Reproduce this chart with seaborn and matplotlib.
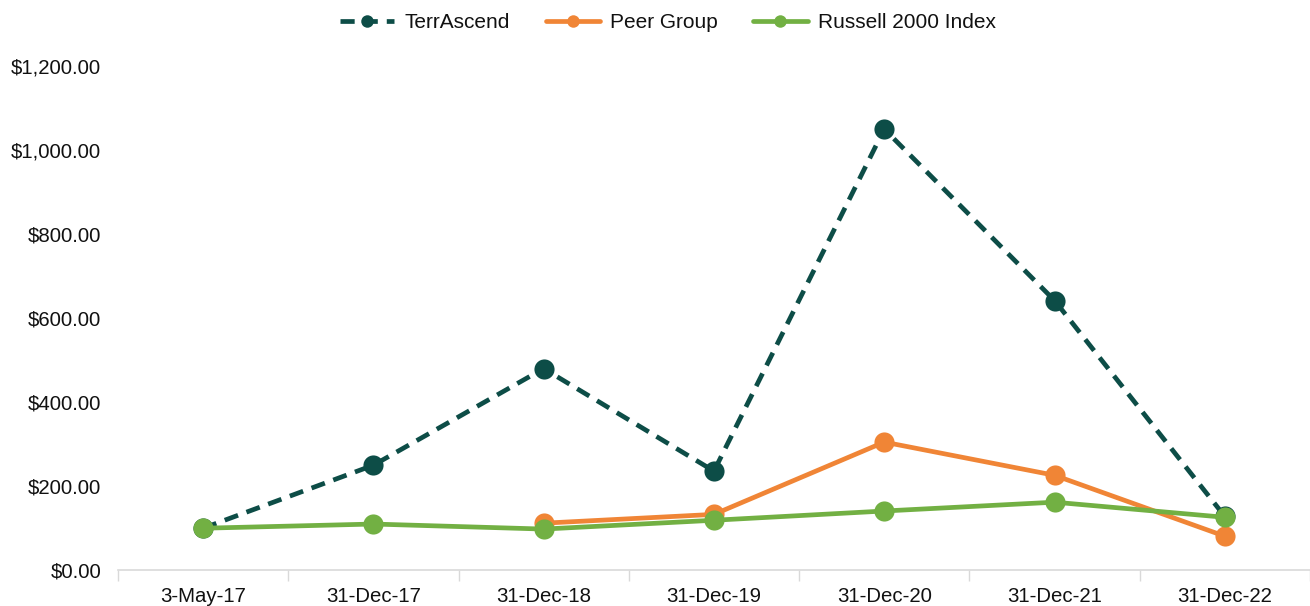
import matplotlib
matplotlib.use("Agg")
import matplotlib.pyplot as plt
import seaborn as sns
import numpy as np
import pandas as pd
from matplotlib.ticker import FuncFormatter, FixedLocator

dates = ["3-May-17", "31-Dec-17", "31-Dec-18", "31-Dec-19",
         "31-Dec-20", "31-Dec-21", "31-Dec-22"]
terrascend = [100, 250, 480, 236, 1050, 642, 128]
peer_group = [np.nan, np.nan, 112, 133, 305, 226, 81]
russell = [100, 110, 98, 119, 141, 162, 126]

sns.set_theme(style="white")
plt.rcParams['font.family'] = ['Liberation Sans', 'DejaVu Sans']

df = pd.DataFrame({"pos": range(len(dates)), "TerrAscend": terrascend,
                   "Peer Group": peer_group, "Russell 2000 Index": russell})

fig = plt.figure(figsize=(13.1, 6.06), dpi=100)
ax = fig.add_axes([0.09, 0.059, 0.91, 0.832])

sns.lineplot(data=df, x="pos", y="TerrAscend", ax=ax, color="#0D4D47",
             linewidth=3.4, marker="o", markersize=14.5, markeredgewidth=0,
             label="TerrAscend", linestyle=(0, (3, 1.9)))
sns.lineplot(data=df.dropna(), x="pos", y="Peer Group", ax=ax, color="#F08536",
             linewidth=3.4, marker="o", markersize=14.5, markeredgewidth=0,
             label="Peer Group")
sns.lineplot(data=df, x="pos", y="Russell 2000 Index", ax=ax, color="#72B043",
             linewidth=3.4, marker="o", markersize=14.5, markeredgewidth=0,
             label="Russell 2000 Index")

ax.set_xlim(-0.5, len(dates) - 0.5)
ax.set_ylim(0, 1200)
ax.set_yticks(range(0, 1201, 200))
ax.yaxis.set_major_formatter(FuncFormatter(lambda v, p: f"${v:,.2f}"))
ax.set_xticks(range(len(dates)))
ax.set_xticklabels(dates)
ax.xaxis.set_minor_locator(FixedLocator(np.arange(-0.5, len(dates), 1.0)))
ax.tick_params(axis="x", which="major", length=0, labelsize=14.7, pad=12, labelcolor="#111111")
ax.tick_params(axis="x", which="minor", length=8, width=1, color="#D9D9D9", bottom=True)
ax.tick_params(axis="y", length=0, labelsize=14.7, pad=12, labelcolor="#111111")
ax.set_xlabel("")
ax.set_ylabel("")
for s in ["top", "right", "left"]:
    ax.spines[s].set_visible(False)
ax.spines["bottom"].set_color("#D9D9D9")
ax.spines["bottom"].set_linewidth(1.2)

handles, labels = ax.get_legend_handles_labels()
leg = fig.legend(handles, labels, loc="center", bbox_to_anchor=(0.51, 0.963), ncol=3,
                 frameon=False, fontsize=15, markerscale=0.62, handlelength=2.6,
                 columnspacing=1.7, handletextpad=0.5, labelcolor="#111111")
ax.get_legend().remove()

plt.savefig("out.png")
